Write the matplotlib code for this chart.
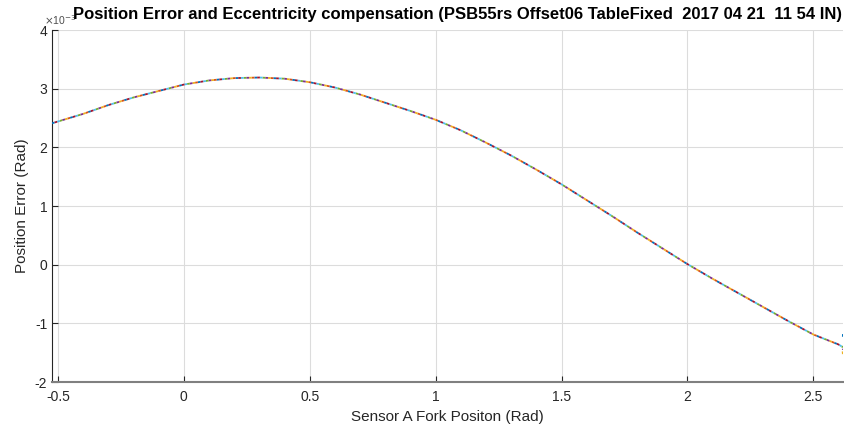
import numpy as np
import matplotlib
matplotlib.use("Agg")
import matplotlib.pyplot as plt
from matplotlib.ticker import FuncFormatter

# Shared curve (position error, rad)
x_pos = [-0.5236, -0.4, -0.3, -0.2, -0.1, 0.0, 0.1, 0.2, 0.3, 0.4, 0.5,
         0.6, 0.7, 0.8, 0.9, 1.0, 1.1, 1.2, 1.3, 1.4, 1.5,
         1.6, 1.7, 1.8, 1.9, 2.0, 2.1, 2.2, 2.3, 2.4, 2.5, 2.6, 2.615]
err_e3 = [2.41, 2.57, 2.72, 2.85, 2.96, 3.07, 3.14, 3.18, 3.19, 3.17, 3.11,
          3.02, 2.90, 2.76, 2.62, 2.47, 2.29, 2.08, 1.86, 1.62, 1.37,
          1.10, 0.83, 0.55, 0.28, 0.01, -0.24, -0.48, -0.72, -0.96, -1.19, -1.36, -1.40]
# final point of each revolution segment (at the right edge)
end_x = 2.618
end_e3 = [-1.18, -1.30, -1.55, -1.45, -1.40, -1.25, -1.35]
colors = ["#0072BD", "#D95319", "#EDB120", "#7E2F8E", "#77AC30", "#4DBEEE", "#A2142F"]
x_ticks = [-0.5, 0, 0.5, 1, 1.5, 2, 2.5]
x_tick_labels = ["-0.5", "0", "0.5", "1", "1.5", "2", "2.5"]
y_ticks_e3 = [-2, -1, 0, 1, 2, 3, 4]

title = "Position Error and Eccentricity compensation (PSB55rs Offset06 TableFixed  2017 04 21  11 54 IN)"

plt.rcParams['font.family'] = ['Liberation Sans', 'DejaVu Sans']
plt.rcParams['axes.unicode_minus'] = False
fig = plt.figure(figsize=(8.45, 4.29), dpi=100)
ax = fig.add_axes([52/845, 1-382/429, (843-52)/845, (382-30)/429])

n = len(colors)
for i, (c, ey) in enumerate(zip(colors, end_e3)):
    xs = np.array(x_pos + [end_x])
    ys = np.array(err_e3 + [ey]) * 1e-3
    ax.plot(xs, ys, color=c, lw=1.3, zorder=3,
            linestyle=(i * 1.5, (1.5, 1.5 * (n - 1))), solid_capstyle="butt")

ax.set_xlim(-0.5236, 2.618)
ax.set_ylim(-2e-3, 4e-3)
ax.set_xticks(x_ticks)
ax.set_xticklabels(x_tick_labels)
ax.set_yticks(np.array(y_ticks_e3) * 1e-3)
ax.yaxis.set_major_formatter(FuncFormatter(lambda v, p: f"{v * 1e3:g}"))

ax.grid(True, color="#dcdcdc", lw=0.8, zorder=0)
for s in ["top", "right"]:
    ax.spines[s].set_visible(False)
ax.spines["left"].set_color("#262626")
ax.spines["bottom"].set_color("#808080")
ax.spines["bottom"].set_linewidth(1.5)
ax.tick_params(direction="in", labelsize=10, colors="#262626", length=4)
ax.tick_params(axis="x", pad=6)

ax.set_xlabel("Sensor A Fork Positon (Rad)", fontsize=11, color="#262626")
ax.set_ylabel("Position Error (Rad)", fontsize=11, color="#262626")
# exponent multiplier (as MATLAB shows it)
fig.text(44/845, 1 - 20/429, r"$\times$10$^{-3}$", ha="left", va="center",
         fontsize=7.5, color="#4d4d4d")
fig.text(458/845, 1 - 14/429, title, ha="center", va="center", fontsize=12,
         fontweight="bold", color="#000000")

fig.savefig("out.png", dpi=100)
